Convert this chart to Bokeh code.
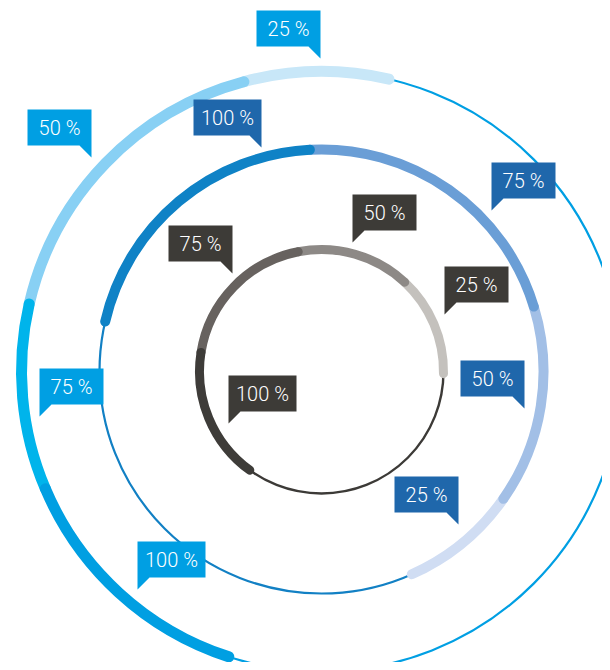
import math
from bokeh.plotting import figure
from bokeh.models import Range1d
from bokeh.core.properties import value
from bokeh.embed import file_html
from bokeh.resources import INLINE

# ---- data -------------------------------------------------------------
pct_labels = ["25 %", "50 %", "75 %", "100 %"]
# arc segment boundaries (degrees, counter-clockwise): segment i runs bounds[i] -> bounds[i+1]
outer_bounds = [77, 105, 167, 203, 252]
middle_bounds = [-66, -35, 17, 93, 167]
inner_bounds = [-1, 47, 101, 171, 234]

# ---- layout / style ---------------------------------------------------
CX, CY = 321, 371
W, H = 602, 662

rings = [
    dict(bounds=outer_bounds, r=300, thick=11, thin=2.2, thin_color="#009fe3",
         seg_colors=["#c8e7f8", "#88d0f4", "#00b4eb", "#009fe2"], label_color="#009fe3",
         tips=[(-1, 313, "R"), (-230, 214, "R"), (-282, -45, "L"), (-184, -218, "L")]),
    dict(bounds=middle_bounds, r=222, thick=10, thin=2.2, thin_color="#1280c4",
         seg_colors=["#d0ddf3", "#a2bfe6", "#6a9ed6", "#0f82c6"], label_color="#1f67ab",
         tips=[(137, -153, "R"), (203, -37, "R"), (170, 161, "L"), (-60, 224, "R")]),
    dict(bounds=inner_bounds, r=122, thick=9, thin=2.4, thin_color="#3c3a37",
         seg_colors=["#c4c1bd", "#8d8986", "#67625f", "#3e3c39"], label_color="#3d3b37",
         tips=[(123, 57, "L"), (31, 129, "L"), (-89, 98, "R"), (-93, -52, "L")]),
]

p = figure(width=W, height=H,
           x_range=Range1d(-CX, W - CX), y_range=Range1d(CY - H, CY),
           output_backend="svg", toolbar_location=None,
           x_axis_location=None, y_axis_location=None,
           min_border=0, outline_line_color=None)
p.grid.visible = False

# thin full circles
for ring in rings:
    p.arc(x=[0], y=[0], radius=[ring["r"]], start_angle=[0.0], end_angle=[2 * math.pi],
          line_color=ring["thin_color"], line_width=ring["thin"])

# thick segments, lightest first so darker round caps sit on top
for ring in rings:
    b = ring["bounds"]
    for i in range(len(pct_labels)):
        p.arc(x=[0], y=[0], radius=[ring["r"]],
              start_angle=[math.radians(b[i])], end_angle=[math.radians(b[i + 1])],
              line_color=ring["seg_colors"][i], line_width=ring["thick"], line_cap="round")

# callout labels
BOX_H, TAIL = 36, 12
for ring in rings:
    xs, ys, tx, ty, tt = [], [], [], [], []
    for lab, (x0, y0, side) in zip(pct_labels, ring["tips"]):
        w = 68 if len(lab) > 4 else 64
        bottom = y0 + TAIL
        top = bottom + BOX_H
        if side == "R":
            right = x0
            left = x0 - w
            px = [left, right, right, right - TAIL, left]
            py = [top, top, y0, bottom, bottom]
        else:
            left = x0
            right = x0 + w
            px = [left, right, right, left + TAIL, left]
            py = [top, top, bottom, bottom, y0]
        xs.append(px)
        ys.append(py)
        tx.append((left + right) / 2)
        ty.append((top + bottom) / 2)
        tt.append(lab)
    p.patches(xs=xs, ys=ys, fill_color=ring["label_color"], line_color=None)
    p.text(x=tx, y=ty, text=tt, text_color="white", text_align="center",
           text_baseline="middle", text_font=value("Roboto Light"),
           text_font_size="20px")

open("out.html", "w").write(file_html(p, INLINE))
